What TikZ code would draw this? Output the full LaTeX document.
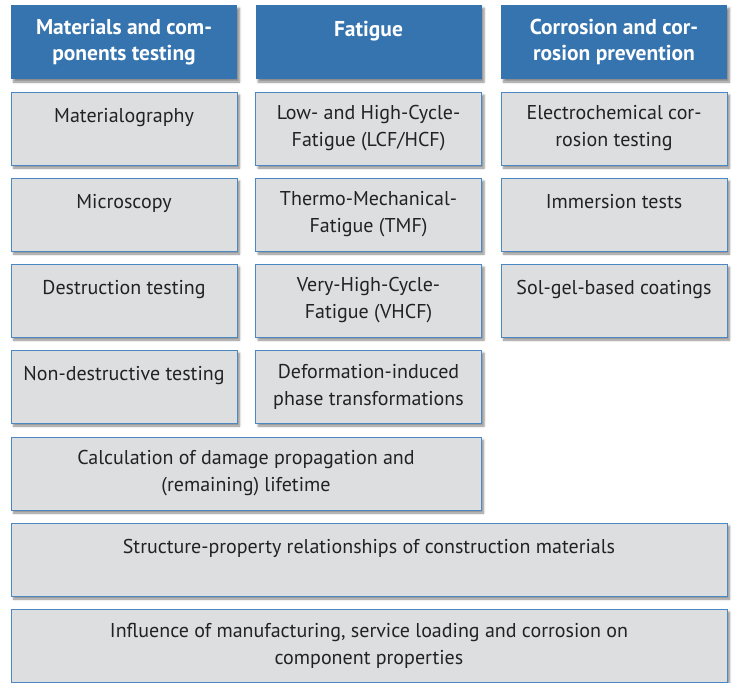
\documentclass[tikz,border=0pt]{standalone}
\usepackage{fontspec}
\setmainfont{PT Sans}
\usetikzlibrary{shadows.blur}
\definecolor{headblue}{HTML}{3574AE}
\definecolor{edgeblue}{HTML}{4B87C1}
\definecolor{cellgray}{HTML}{DDDEE0}
\definecolor{ink}{HTML}{222222}

\begin{document}
\begin{tikzpicture}[x=1pt,y=1pt,
  font=\fontsize{20}{27}\selectfont, text=ink,
  cell/.style={draw=edgeblue,line width=1pt,fill=cellgray,align=center,
               minimum height=73pt,inner sep=0pt,
               blur shadow={shadow xshift=2.5pt,shadow yshift=-3pt,
                            shadow blur steps=5,shadow opacity=45}},
  narrow/.style={cell,minimum width=226pt},
  head/.style={narrow,draw=none,fill=headblue,text=white,minimum height=74pt,
               font=\bfseries\fontsize{21.5}{26.5}\selectfont}
]
% page frame, 734 x 683
\path[use as bounding box] (0,0) rectangle (734,-683);

% column headers
\node[head] (hmat) at (124,-42) {Materials and com-\\ponents testing};
\node[head] (hfat) at (368.5,-42) {Fatigue\\\phantom{M}};
\node[head] (hcor) at (614,-42) {Corrosion and cor-\\rosion prevention};

% materials and components testing
\node[narrow] (metallo) at (124,-128.5) {Materialography\\\phantom{M}};
\node[narrow] (micro) at (124,-214.5) {Microscopy\\\phantom{M}};
\node[narrow] (destr) at (124,-300.5) {Destruction testing\\\phantom{M}};
\node[narrow] (ndt) at (124,-386.5) {Non-destructive testing\\\phantom{M}};

% fatigue
\node[narrow] (lcf) at (368.5,-128.5) {Low- and High-Cycle-\\Fatigue (LCF/HCF)};
\node[narrow] (tmf) at (368.5,-214.5) {Thermo-Mechanical-\\Fatigue (TMF)};
\node[narrow] (vhcf) at (368.5,-300.5) {Very-High-Cycle-\\Fatigue (VHCF)};
\node[narrow] (phase) at (368.5,-386.5) {Deformation-induced\\phase transformations};

% corrosion
\node[narrow] (echem) at (614,-128.5) {Electrochemical cor-\\rosion testing};
\node[narrow] (immers) at (614,-214.5) {Immersion tests\\\phantom{M}};
\node[narrow] (solgel) at (614,-300.5) {Sol-gel-based coatings\\\phantom{M}};

% spanning rows
\node[cell,minimum width=470pt] (lifetime) at (246,-473.5)
  {Calculation of damage propagation and\\(remaining) lifetime};
\node[cell,minimum width=716pt] (struct) at (369,-559.5)
  {Structure-property relationships of construction materials\\\phantom{M}};
\node[cell,minimum width=716pt] (influence) at (369,-645.5)
  {Influence of manufacturing, service loading and corrosion on\\component properties};
\end{tikzpicture}
\end{document}
